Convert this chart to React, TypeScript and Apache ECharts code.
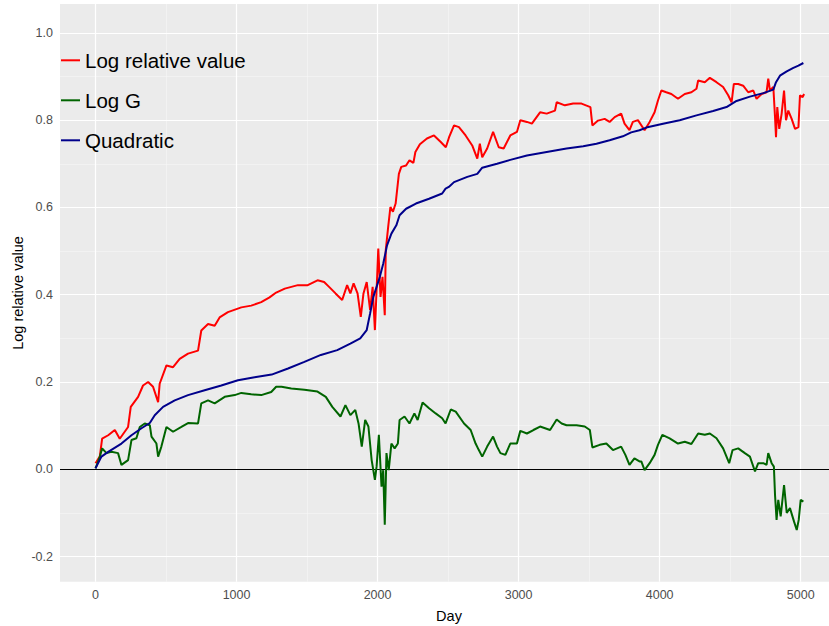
import React, { useEffect, useRef } from "react";
import * as echarts from "echarts";

const xTickValues = [0, 1000, 2000, 3000, 4000, 5000];
const xMinorValues = [500, 1500, 2500, 3500, 4500];
const yTickValues = [-0.2, 0, 0.2, 0.4, 0.6, 0.8, 1.0];
const yMinorValues = [-0.1, 0.1, 0.3, 0.5, 0.7, 0.9];
const seriesNames = ["Log relative value", "Log G", "Quadratic"];

const logRelativeValue: [number, number][] = [
  [0, 0.014], [31, 0.03], [47, 0.07], [90, 0.078], [137, 0.09], [172, 0.07], [231, 0.097], [250, 0.143],
  [302, 0.166], [337, 0.192], [373, 0.2], [408, 0.189], [444, 0.154], [455, 0.196], [503, 0.238], [550, 0.234],
  [597, 0.253], [656, 0.265], [727, 0.272], [750, 0.318], [798, 0.333], [845, 0.329], [880, 0.348], [939, 0.36],
  [1034, 0.371], [1104, 0.375], [1175, 0.383], [1234, 0.394], [1281, 0.405], [1342, 0.414], [1435, 0.422],
  [1505, 0.422], [1574, 0.433], [1621, 0.429], [1656, 0.418], [1702, 0.403], [1749, 0.388], [1784, 0.422],
  [1807, 0.403], [1830, 0.426], [1858, 0.403], [1881, 0.349], [1900, 0.403], [1923, 0.429], [1947, 0.365],
  [1965, 0.418], [1981, 0.319], [1993, 0.41], [2005, 0.506], [2021, 0.395], [2035, 0.441], [2051, 0.353],
  [2058, 0.502], [2075, 0.555], [2091, 0.601], [2109, 0.59], [2128, 0.609], [2151, 0.677], [2168, 0.693],
  [2202, 0.696], [2226, 0.708], [2254, 0.702], [2268, 0.727], [2300, 0.745], [2350, 0.758], [2400, 0.765],
  [2448, 0.75], [2484, 0.738], [2507, 0.761], [2542, 0.788], [2577, 0.784], [2624, 0.765], [2671, 0.742],
  [2707, 0.712], [2725, 0.746], [2742, 0.715], [2777, 0.735], [2819, 0.773], [2859, 0.738], [2894, 0.735],
  [2941, 0.765], [2988, 0.773], [3012, 0.8], [3059, 0.796], [3094, 0.792], [3152, 0.818], [3199, 0.815],
  [3258, 0.822], [3270, 0.841], [3328, 0.834], [3387, 0.838], [3446, 0.838], [3509, 0.83], [3523, 0.788],
  [3563, 0.799], [3610, 0.803], [3645, 0.796], [3681, 0.807], [3727, 0.815], [3751, 0.792], [3786, 0.777],
  [3810, 0.796], [3846, 0.8], [3893, 0.777], [3929, 0.796], [3964, 0.818], [3988, 0.845], [4012, 0.868],
  [4047, 0.864], [4083, 0.86], [4130, 0.849], [4178, 0.86], [4225, 0.864], [4261, 0.872], [4273, 0.891],
  [4320, 0.887], [4356, 0.897], [4403, 0.887], [4450, 0.876], [4486, 0.857], [4510, 0.841], [4526, 0.883],
  [4557, 0.883], [4592, 0.879], [4628, 0.864], [4664, 0.868], [4687, 0.849], [4723, 0.86], [4758, 0.864],
  [4770, 0.895], [4782, 0.868], [4806, 0.876], [4818, 0.807], [4825, 0.761], [4834, 0.83], [4848, 0.78],
  [4865, 0.815], [4882, 0.868], [4896, 0.8], [4912, 0.822], [4936, 0.803], [4960, 0.78], [4984, 0.784],
  [4995, 0.857], [5014, 0.853], [5024, 0.86],
];

const logG: [number, number][] = [
  [0, 0.002], [31, 0.029], [47, 0.048], [78, 0.037], [113, 0.04], [160, 0.037], [184, 0.01], [231, 0.021],
  [255, 0.067], [290, 0.071], [314, 0.097], [349, 0.105], [385, 0.101], [397, 0.075], [432, 0.059], [444, 0.029],
  [467, 0.052], [503, 0.097], [550, 0.086], [609, 0.097], [656, 0.106], [727, 0.105], [750, 0.151], [798, 0.158],
  [845, 0.151], [916, 0.166], [987, 0.17], [1034, 0.175], [1104, 0.172], [1175, 0.17], [1246, 0.177],
  [1281, 0.189], [1319, 0.189], [1388, 0.185], [1481, 0.182], [1574, 0.178], [1633, 0.166], [1679, 0.143],
  [1737, 0.121], [1772, 0.147], [1807, 0.124], [1842, 0.136], [1865, 0.105], [1888, 0.052], [1912, 0.113],
  [1935, 0.098], [1958, 0.021], [1981, -0.024], [1993, 0.006], [2009, 0.079], [2028, -0.04], [2040, -0.002],
  [2051, -0.127], [2063, 0.037], [2079, -0.002], [2098, 0.059], [2121, 0.048], [2144, 0.059], [2156, 0.113],
  [2191, 0.121], [2226, 0.105], [2261, 0.128], [2284, 0.113], [2319, 0.153], [2365, 0.14], [2412, 0.128],
  [2458, 0.117], [2482, 0.105], [2519, 0.137], [2554, 0.132], [2613, 0.105], [2660, 0.09], [2695, 0.059],
  [2718, 0.044], [2742, 0.029], [2777, 0.052], [2819, 0.075], [2847, 0.052], [2871, 0.037], [2906, 0.033],
  [2941, 0.059], [2988, 0.059], [3012, 0.088], [3059, 0.082], [3105, 0.09], [3152, 0.098], [3223, 0.09],
  [3270, 0.114], [3305, 0.105], [3340, 0.101], [3411, 0.101], [3469, 0.098], [3505, 0.09], [3523, 0.05],
  [3575, 0.056], [3622, 0.059], [3669, 0.044], [3727, 0.052], [3757, 0.033], [3786, 0.01], [3821, 0.025],
  [3857, 0.018], [3870, 0.018], [3893, -0.002], [3929, 0.014], [3964, 0.033], [3988, 0.056], [4019, 0.079],
  [4071, 0.071], [4130, 0.059], [4178, 0.063], [4225, 0.058], [4273, 0.082], [4320, 0.079], [4356, 0.082],
  [4403, 0.071], [4450, 0.048], [4493, 0.014], [4517, 0.044], [4557, 0.048], [4604, 0.037], [4640, 0.029],
  [4676, -0.005], [4699, 0.014], [4735, 0.014], [4758, 0.01], [4770, 0.037], [4794, 0.014], [4810, 0.006],
  [4818, -0.059], [4829, -0.116], [4841, -0.07], [4858, -0.108], [4882, -0.036], [4901, -0.1], [4924, -0.089],
  [4953, -0.12], [4972, -0.139], [4986, -0.116], [5000, -0.07], [5019, -0.074],
];

const quadratic: [number, number][] = [
  [0, 0.002], [42, 0.029], [90, 0.04], [184, 0.059], [255, 0.078], [326, 0.094], [385, 0.106], [420, 0.124],
  [479, 0.143], [562, 0.158], [656, 0.17], [774, 0.181], [892, 0.192], [1010, 0.204], [1128, 0.211],
  [1249, 0.217], [1365, 0.231], [1481, 0.246], [1598, 0.262], [1714, 0.273], [1807, 0.288], [1877, 0.3],
  [1923, 0.319], [1947, 0.357], [1970, 0.395], [1993, 0.418], [2016, 0.441], [2040, 0.471], [2067, 0.513],
  [2098, 0.54], [2133, 0.559], [2156, 0.582], [2202, 0.597], [2272, 0.609], [2365, 0.62], [2458, 0.632],
  [2482, 0.643], [2505, 0.647], [2542, 0.658], [2636, 0.67], [2707, 0.677], [2742, 0.691], [2847, 0.7],
  [2941, 0.709], [3059, 0.719], [3199, 0.727], [3340, 0.735], [3458, 0.74], [3552, 0.746], [3645, 0.754],
  [3739, 0.763], [3798, 0.772], [3857, 0.777], [3905, 0.783], [4024, 0.792], [4142, 0.8], [4261, 0.811],
  [4379, 0.821], [4474, 0.83], [4545, 0.844], [4640, 0.854], [4735, 0.862], [4806, 0.87], [4825, 0.887],
  [4853, 0.902], [4901, 0.912], [4948, 0.92], [4984, 0.925], [5019, 0.931],
];

const FONT = "'Liberation Sans', Arial, sans-serif";

export default function App() {
  const ref = useRef<HTMLDivElement>(null);
  useEffect(() => {
    if (!ref.current) return;
    const chart = echarts.init(ref.current, undefined, { renderer: "svg" });

    const gridLines: any[] = [];
    xMinorValues.forEach((v) => gridLines.push({ xAxis: v, lineStyle: { color: "#F7F7F7", width: 0.6, type: "solid" } }));
    yMinorValues.forEach((v) => gridLines.push({ yAxis: v, lineStyle: { color: "#F7F7F7", width: 0.6, type: "solid" } }));
    xTickValues.forEach((v) => gridLines.push({ xAxis: v, lineStyle: { color: "#FFFFFF", width: 1.2, type: "solid" } }));
    yTickValues.forEach((v) => gridLines.push({ yAxis: v, lineStyle: { color: "#FFFFFF", width: 1.2, type: "solid" } }));
    gridLines.push({ yAxis: 0, lineStyle: { color: "#000000", width: 1, type: "solid" } });

    const colors = ["#FF0000", "#006400", "#00008B"];
    const datasets = [logRelativeValue, logG, quadratic];

    chart.setOption({
      animation: false,
      textStyle: { fontFamily: FONT },
      grid: {
        left: 60,
        top: 4,
        right: 0,
        bottom: 44.3,
        show: true,
        backgroundColor: "#EBEBEB",
        borderWidth: 0,
        containLabel: false,
        outerBoundsMode: "none",
      },
      legend: {
        orient: "vertical",
        left: 56,
        top: 43.3,
        icon: "rect",
        itemWidth: 19,
        itemHeight: 2,
        itemGap: 16,
        data: seriesNames,
        textStyle: { fontSize: 20.5, color: "#000000", fontFamily: FONT, lineHeight: 24 },
        selectedMode: false,
      },
      xAxis: {
        type: "value",
        min: -251.7,
        max: 5200.7,
        axisLine: { show: false },
        splitLine: { show: false },
        axisTick: { show: true, length: 3.6, lineStyle: { color: "#333333", width: 1 }, customValues: xTickValues },
        axisLabel: {
          color: "#4D4D4D",
          fontSize: 12.5,
          margin: 7,
          fontFamily: FONT,
          customValues: xTickValues,
          formatter: (v: number) => String(v),
        },
      },
      yAxis: {
        type: "value",
        min: -0.2576,
        max: 1.0662,
        axisLine: { show: false },
        splitLine: { show: false },
        axisTick: { show: true, length: 3.6, lineStyle: { color: "#333333", width: 1 }, customValues: yTickValues },
        axisLabel: {
          color: "#4D4D4D",
          fontSize: 12.5,
          margin: 7,
          fontFamily: FONT,
          customValues: yTickValues,
          formatter: (v: number) => v.toFixed(1),
        },
      },
      graphic: [
        {
          type: "text",
          x: 449,
          y: 616,
          style: { text: "Day", fontSize: 14.5, fill: "#000000", align: "center", verticalAlign: "middle", fontFamily: FONT },
        },
        {
          type: "text",
          x: 18,
          y: 293,
          rotation: Math.PI / 2,
          style: {
            text: "Log relative value",
            fontSize: 14.5,
            fill: "#000000",
            align: "center",
            verticalAlign: "middle",
            fontFamily: FONT,
          },
        },
      ],
      series: [
        {
          type: "line",
          name: "__grid",
          data: [[0, 0]],
          showSymbol: false,
          symbol: "none",
          lineStyle: { opacity: 0 },
          silent: true,
          z: 1,
          markLine: {
            silent: true,
            z: 1,
            symbol: ["none", "none"],
            label: { show: false },
            emphasis: { disabled: true },
            animation: false,
            data: gridLines,
          },
        },
        ...seriesNames.map((name, i) => ({
          type: "line",
          name,
          data: datasets[i],
          showSymbol: false,
          symbol: "none",
          color: colors[i],
          lineStyle: { color: colors[i], width: 2 },
          z: 10 + i,
          silent: true,
        })),
      ],
    });
    return () => chart.dispose();
  }, []);
  return <div ref={ref} style={{ position: "absolute", left: 0, top: 0, width: 829, height: 626 }} />;
}
